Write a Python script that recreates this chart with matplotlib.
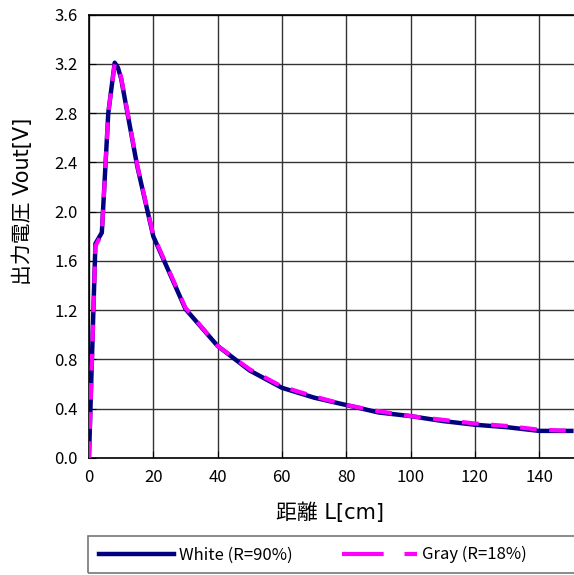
import matplotlib
matplotlib.use("Agg")
import matplotlib.pyplot as plt
from matplotlib.patches import Rectangle
import numpy as np

plt.rcParams['font.family'] = ['Noto Sans CJK JP', 'DejaVu Sans']

# distance L [cm] and output voltage Vout [V]
dist = [0, 2, 4, 6, 8, 9, 10, 15, 20, 30, 40, 50, 60, 70, 80, 90, 100,
        110, 120, 130, 140, 150]
v_white = [0.0, 1.74, 1.83, 2.80, 3.21, 3.17, 3.08, 2.37, 1.80, 1.21, 0.91,
           0.71, 0.57, 0.49, 0.43, 0.37, 0.34, 0.30, 0.27, 0.25, 0.22, 0.22]
v_gray = [0.0, 1.72, 1.82, 2.80, 3.20, 3.18, 3.09, 2.38, 1.81, 1.22, 0.91,
          0.72, 0.58, 0.50, 0.43, 0.38, 0.34, 0.31, 0.28, 0.26, 0.23, 0.22]

xticks = np.arange(0, 141, 20)
yticks = np.arange(0, 3.61, 0.4)

fig = plt.figure(figsize=(5.74, 5.75), dpi=100)
ax = fig.add_axes([0.155, 0.2035, 0.846, 0.771])

ax.plot(dist, v_white, color='#000080', lw=3.2, label='White (R=90%)',
        solid_joinstyle='round', zorder=3)
ax.plot(dist, v_gray, color='#FF00FF', lw=3.0, dashes=(4, 3),
        label='Gray (R=18%)', zorder=4)

ax.set_xlim(0, 151)
ax.set_ylim(0, 3.6)
ax.set_xticks(xticks)
ax.set_yticks(yticks)
ax.set_yticklabels(['%.1f' % v for v in yticks])
ax.grid(True, color='#333333', lw=1.0)
ax.tick_params(direction='in', length=5, labelsize=12, pad=8)
for s in ax.spines.values():
    s.set_linewidth(1.2)
    s.set_color('black')

# axis titles: wider Latin glyphs first, CJK as fallback
lab_fam = ['DejaVu Sans', 'Noto Sans CJK JP']
ax.set_xlabel('距離 L[cm]', fontsize=15, family=lab_fam, va='center')
ax.set_ylabel('出力電圧 Vout[V]', fontsize=15, family=lab_fam, va='center')
ax.xaxis.set_label_coords(0.496, -0.124)
ax.yaxis.set_label_coords(-0.136, 0.579)

# legend box runs off the right edge like the original
fig.patches.append(Rectangle((88 / 574, 0.003), 0.9, 0.064,
                             transform=fig.transFigure, fill=False,
                             edgecolor='#777777', lw=1.2))
leg = fig.legend(loc='center left', bbox_to_anchor=(0.16, 0.035),
                 ncol=2, fontsize=12, handlelength=4.5, columnspacing=3.0,
                 handletextpad=0.3, frameon=False, borderaxespad=0)
leg.legend_handles[1].set_dashes((10, 5))

fig.savefig('out.png', dpi=100)
